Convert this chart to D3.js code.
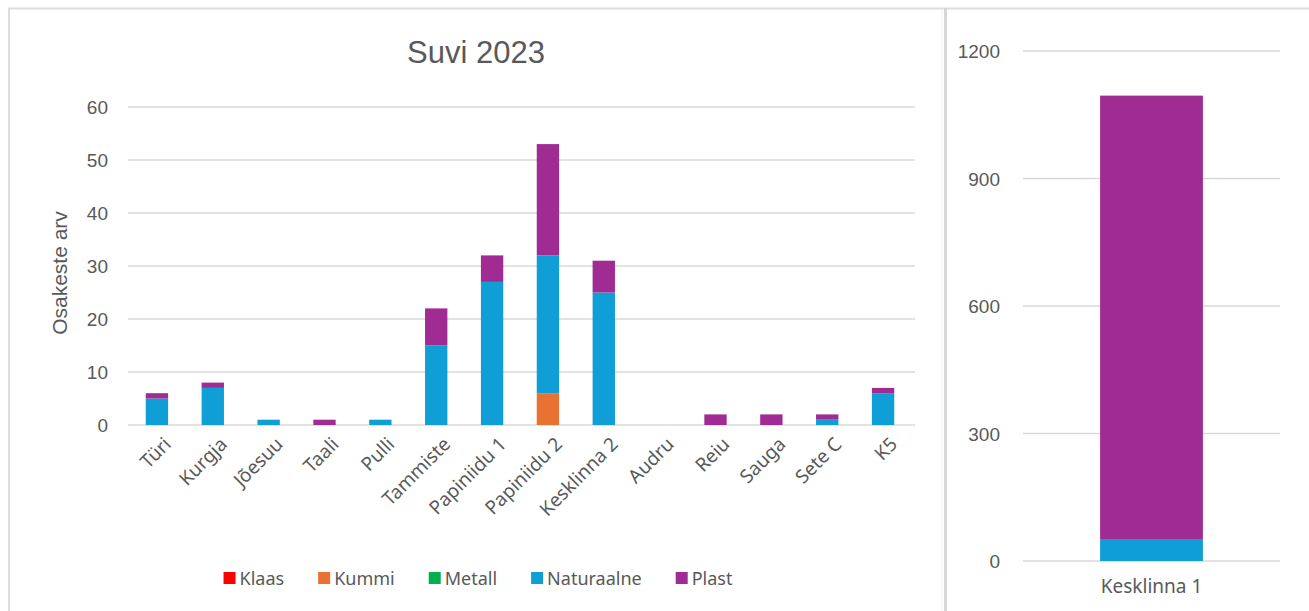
<!DOCTYPE html>
<html>
<head>
<meta charset="utf-8">
<script src="https://cdn.jsdelivr.net/npm/d3@7"></script>
<style>
  html, body { margin: 0; padding: 0; background: #ffffff; }
  svg { display: block; }
</style>
</head>
<body>
<svg id="chart" width="1309" height="611"></svg>
<script>
// Sites sampled in summer 2023 (main panel)
const sites = ["Türi", "Kurgja", "Jõesuu", "Taali", "Pulli", "Tammiste", "Papiniidu 1",
  "Papiniidu 2", "Kesklinna 2", "Audru", "Reiu", "Sauga", "Sete C", "K5"];

// Particle counts per material type, one value per site
const klaas      = [0, 0, 0, 0, 0, 0, 0, 0, 0, 0, 0, 0, 0, 0];
const kummi      = [0, 0, 0, 0, 0, 0, 0, 6, 0, 0, 0, 0, 0, 0];
const metall     = [0, 0, 0, 0, 0, 0, 0, 0, 0, 0, 0, 0, 0, 0];
const naturaalne = [5, 7, 1, 0, 1, 15, 27, 26, 25, 0, 0, 0, 1, 6];
const plast      = [1, 1, 0, 1, 0, 7, 5, 21, 6, 0, 2, 2, 1, 1];

// Separate panel for the outlier site
const sideSite = ["Kesklinna 1"];
const sideKlaas = [0];
const sideKummi = [0];
const sideMetall = [0];
const sideNaturaalne = [50];
const sidePlast = [1045];

const materials = ["Klaas", "Kummi", "Metall", "Naturaalne", "Plast"];
const colors = ["#FF0000", "#E97132", "#00B050", "#0F9ED5", "#A02B93"];

const mainTicks = [0, 10, 20, 30, 40, 50, 60];
const sideTicks = [0, 300, 600, 900, 1200];

const titleText = "Suvi 2023";
const yTitle = "Osakeste arv";

const svg = d3.select("#chart");
const textColor = "#595959";
const gridColor = "#D9D9D9";
const numFont = "'Liberation Sans', Arial, sans-serif";
const catFont = "'Noto Sans', 'Open Sans', sans-serif";

const color = d3.scaleOrdinal().domain(materials).range(colors);

function buildRows(cats, arrs) {
  return cats.map((c, i) => {
    const r = { site: c };
    materials.forEach((m, j) => { r[m] = arrs[j][i]; });
    return r;
  });
}

// ---- frame ----
svg.append("line").attr("x1", 8).attr("x2", 1309).attr("y1", 8.5).attr("y2", 8.5)
  .attr("stroke", "#DDDDDD").attr("stroke-width", 2);
svg.append("line").attr("x1", 9).attr("x2", 9).attr("y1", 8).attr("y2", 611)
  .attr("stroke", "#DDDDDD").attr("stroke-width", 2);
svg.append("line").attr("x1", 945.5).attr("x2", 945.5).attr("y1", 8).attr("y2", 611)
  .attr("stroke", "#D6D6D6").attr("stroke-width", 3);
svg.append("line").attr("x1", 942).attr("x2", 942).attr("y1", 10).attr("y2", 611)
  .attr("stroke", "#F2F2F2").attr("stroke-width", 1);

// ---- main panel ----
const rows = buildRows(sites, [klaas, kummi, metall, naturaalne, plast]);
const stack = d3.stack().keys(materials);
const series = stack(rows);

const x = d3.scaleBand().domain(sites).range([129, 911]).paddingInner(0.6).paddingOuter(0.3);
const y = d3.scaleLinear().domain([0, 60]).range([425, 107]);

svg.append("text").attr("x", 476).attr("y", 63).attr("text-anchor", "middle")
  .attr("font-family", numFont).attr("font-size", 31).attr("fill", textColor).text(titleText);

const gridMain = svg.append("g");
gridMain.selectAll("line").data(mainTicks).join("line")
  .attr("x1", 128).attr("x2", 915)
  .attr("y1", d => y(d)).attr("y2", d => y(d))
  .attr("stroke", gridColor).attr("stroke-width", 1.5);

const yAxis = svg.append("g").attr("transform", "translate(108,0)")
  .call(d3.axisLeft(y).tickValues(mainTicks).tickSize(0).tickPadding(0));
yAxis.select(".domain").remove();
yAxis.selectAll("text").attr("font-family", numFont).attr("font-size", 19)
  .attr("fill", textColor).attr("dy", "0.35em");

svg.append("text")
  .attr("transform", "translate(67,273) rotate(-90)")
  .attr("text-anchor", "middle")
  .attr("font-family", numFont).attr("font-size", 21).attr("fill", textColor)
  .text(yTitle);

svg.append("g").selectAll("g").data(series).join("g")
  .attr("fill", d => color(d.key))
  .selectAll("rect").data(d => d).join("rect")
  .attr("x", d => x(d.data.site))
  .attr("width", x.bandwidth())
  .attr("y", d => y(d[1]))
  .attr("height", d => y(d[0]) - y(d[1]));

const xAxis = svg.append("g").attr("transform", "translate(0,436)")
  .call(d3.axisBottom(x).tickSize(0).tickPadding(0));
xAxis.select(".domain").remove();
xAxis.selectAll("text")
  .attr("font-family", catFont).attr("font-size", 19).attr("fill", textColor)
  .attr("text-anchor", "end")
  .attr("dy", "0.7em")
  .attr("transform", "translate(6,0) rotate(-45)");

// ---- legend ----
const legend = svg.append("g");
const items = legend.selectAll("g").data(materials).join("g");
items.append("rect").attr("width", 12).attr("height", 12).attr("y", -13)
  .attr("fill", d => color(d));
items.append("text").attr("x", 16).attr("font-family", catFont).attr("font-size", 18)
  .attr("fill", textColor).text(d => d);
let cursor = 0;
const widths = [];
items.each(function () {
  const w = 16 + d3.select(this).select("text").node().getComputedTextLength();
  widths.push(w);
});
const gap = 34;
const total = d3.sum(widths) + gap * (widths.length - 1);
const startX = 478 - total / 2;
items.attr("transform", (d, i) => {
  const tx = startX + cursor;
  cursor += widths[i] + gap;
  return `translate(${tx},585)`;
});

// ---- side panel ----
const sideRows = buildRows(sideSite, [sideKlaas, sideKummi, sideMetall, sideNaturaalne, sidePlast]);
const sideSeries = stack(sideRows);

const x2 = d3.scaleBand().domain(sideSite).range([1023, 1280]).paddingInner(0.6).paddingOuter(0.3);
const y2 = d3.scaleLinear().domain([0, 1200]).range([561, 51]);

svg.append("g").selectAll("line").data(sideTicks).join("line")
  .attr("x1", 1023).attr("x2", 1280)
  .attr("y1", d => y2(d)).attr("y2", d => y2(d))
  .attr("stroke", gridColor).attr("stroke-width", 1.5);

const y2Axis = svg.append("g").attr("transform", "translate(1000,0)")
  .call(d3.axisLeft(y2).tickValues(sideTicks).tickFormat(d3.format("d")).tickSize(0).tickPadding(0));
y2Axis.select(".domain").remove();
y2Axis.selectAll("text").attr("font-family", numFont).attr("font-size", 19)
  .attr("fill", textColor).attr("dy", "0.35em");

svg.append("g").selectAll("g").data(sideSeries).join("g")
  .attr("fill", d => color(d.key))
  .selectAll("rect").data(d => d).join("rect")
  .attr("x", d => x2(d.data.site))
  .attr("width", x2.bandwidth())
  .attr("y", d => y2(d[1]))
  .attr("height", d => y2(d[0]) - y2(d[1]));

const x2Axis = svg.append("g").attr("transform", "translate(0,579)")
  .call(d3.axisBottom(x2).tickSize(0).tickPadding(0));
x2Axis.select(".domain").remove();
x2Axis.selectAll("text").attr("font-family", catFont).attr("font-size", 19)
  .attr("fill", textColor);
</script>
</body>
</html>
